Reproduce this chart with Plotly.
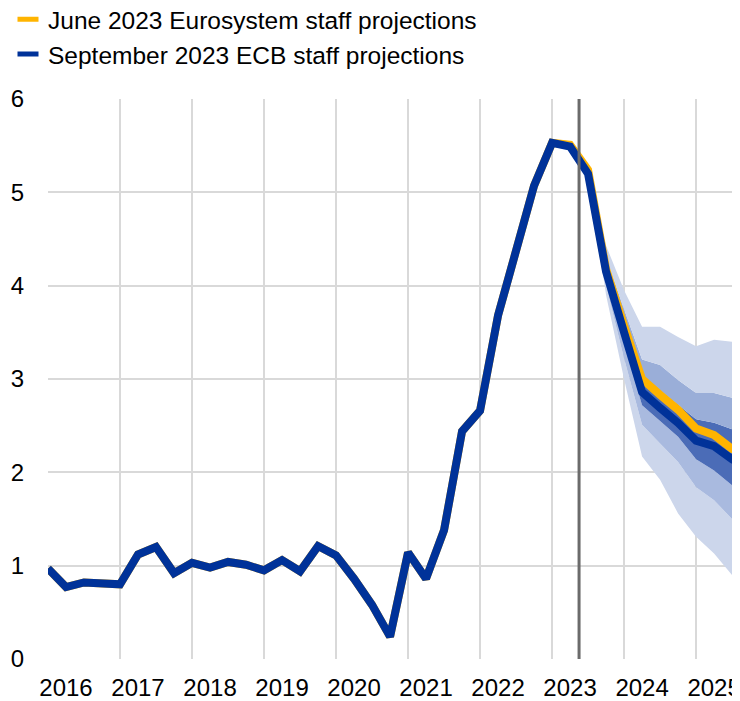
import plotly.graph_objects as go

# ---------------- data ----------------
years = ["2016", "2017", "2018", "2019", "2020", "2021", "2022", "2023", "2024", "2025"]
# quarterly observations 2016Q1 .. 2023Q2 (index 0..29)
history = [0.97, 0.77, 0.82, 0.80, 0.80, 1.12, 1.20, 0.92, 1.03, 0.98,
           1.04, 1.01, 0.95, 1.06, 0.94, 1.21, 1.11, 0.86, 0.58, 0.24,
           1.14, 0.86, 1.38, 2.44, 2.66, 3.68, 4.40, 5.07, 5.53, 5.49]
# September 2023 ECB staff projections, 2023Q2 .. 2025Q4 (index 29..39)
sept_proj = [5.49, 5.20, 4.15, 3.50, 2.86, 2.69, 2.53, 2.34, 2.28, 2.14, 2.05]
# June 2023 Eurosystem staff projections, 2023Q1 .. 2025Q4 (index 28..39)
june_proj = [5.53, 5.51, 5.24, 4.18, 3.57, 3.00, 2.83, 2.67, 2.47, 2.40, 2.25, 2.17]
# uncertainty bands around September projections, 2023Q3 .. 2025Q4 (index 30..39)
light_hi = [5.20, 4.43, 3.95, 3.56, 3.56, 3.45, 3.35, 3.42, 3.40, 3.42]
light_lo = [5.20, 3.90, 3.00, 2.17, 1.92, 1.56, 1.31, 1.13, 0.90, 0.72]
mid_hi = [5.20, 4.30, 3.75, 3.21, 3.15, 2.99, 2.85, 2.85, 2.80, 2.76]
mid_lo = [5.20, 4.00, 3.22, 2.51, 2.31, 2.11, 1.84, 1.70, 1.50, 1.38]
dark_hi = [5.20, 4.22, 3.62, 3.04, 2.88, 2.72, 2.57, 2.53, 2.46, 2.38]
dark_lo = [5.20, 4.08, 3.38, 2.72, 2.55, 2.38, 2.14, 2.02, 1.86, 1.75]
cutoff = 29.5  # between last observation and first projection quarter

# ---------------- positions (quarter index) ----------------
q_band = list(range(30, 30 + len(light_hi)))
year_label_pos = [4 * i + 1 for i in range(len(years))]
year_grid_pos = [4 * i for i in range(len(years))]

BLUE = "#003299"
ORANGE = "#ffb400"
LIGHT = "#ccd6eb"
MID_UP = "#9aaed8"
MID_LO = "#a9badf"
DARK = "#4b6cb7"
GRID = "#d9d9d9"
FONT = "Liberation Sans, Arial, sans-serif"

fig = go.Figure()

def band(y, fill, color):
    fig.add_trace(go.Scatter(x=q_band, y=y, mode="lines", line=dict(width=0, color=color),
                             fill=fill, fillcolor=color, showlegend=False, hoverinfo="skip"))

band(light_lo, None, LIGHT)
band(mid_lo, "tonexty", LIGHT)
band(dark_lo, "tonexty", MID_LO)
band(dark_hi, "tonexty", DARK)
band(mid_hi, "tonexty", MID_UP)
band(light_hi, "tonexty", LIGHT)

june_full = history[:28] + june_proj
sept_full = history[:29] + sept_proj
fig.add_trace(go.Scatter(x=list(range(len(june_full))), y=june_full, mode="lines",
                         line=dict(color=ORANGE, width=8), showlegend=False, hoverinfo="skip"))
fig.add_trace(go.Scatter(x=list(range(len(sept_full))), y=sept_full, mode="lines",
                         line=dict(color=BLUE, width=8), showlegend=False, hoverinfo="skip"))

# legend entries
fig.add_trace(go.Scatter(x=[None], y=[None], mode="markers", name="June 2023 Eurosystem staff projections",
                         marker=dict(symbol="line-ew", size=15, color=ORANGE, line=dict(color=ORANGE, width=7))))
fig.add_trace(go.Scatter(x=[None], y=[None], mode="markers", name="September 2023 ECB staff projections",
                         marker=dict(symbol="line-ew", size=15, color=BLUE, line=dict(color=BLUE, width=7))))

fig.add_shape(type="line", x0=cutoff, x1=cutoff, y0=0, y1=6.04, xref="x", yref="y",
              line=dict(color="#6b6b6b", width=3), layer="above")

# the page body has an 8px margin, so the figure is sized to end at the window edge
fig.update_layout(
    width=732, height=693,
    margin=dict(l=40, r=0, t=91, b=42, autoexpand=False),
    plot_bgcolor="white", paper_bgcolor="white",
    font=dict(family=FONT, size=24, color="#000000"),
    legend=dict(x=0.0, y=1.1825, xref="container", yref="paper", xanchor="left", yanchor="top",
                font=dict(size=24.5), bgcolor="rgba(0,0,0,0)", tracegroupgap=0,
                traceorder="normal"),
)
fig.update_xaxes(range=[0, 38.44], tickmode="array", tickvals=year_label_pos, ticktext=years,
                 showgrid=False, zeroline=False, showline=False, ticks="", tickangle=0,
                 ticklabelstandoff=12, ticklabeloverflow="allow",
                 minor=dict(tickmode="array", tickvals=year_grid_pos, showgrid=True,
                            gridcolor=GRID, gridwidth=1.5, ticks=""))
fig.update_yaxes(range=[0, 6], dtick=1, showgrid=True, gridcolor=GRID, gridwidth=1.5,
                 zeroline=False, showline=False, ticks="", ticklabelstandoff=23)

fig.write_html("out.html")
